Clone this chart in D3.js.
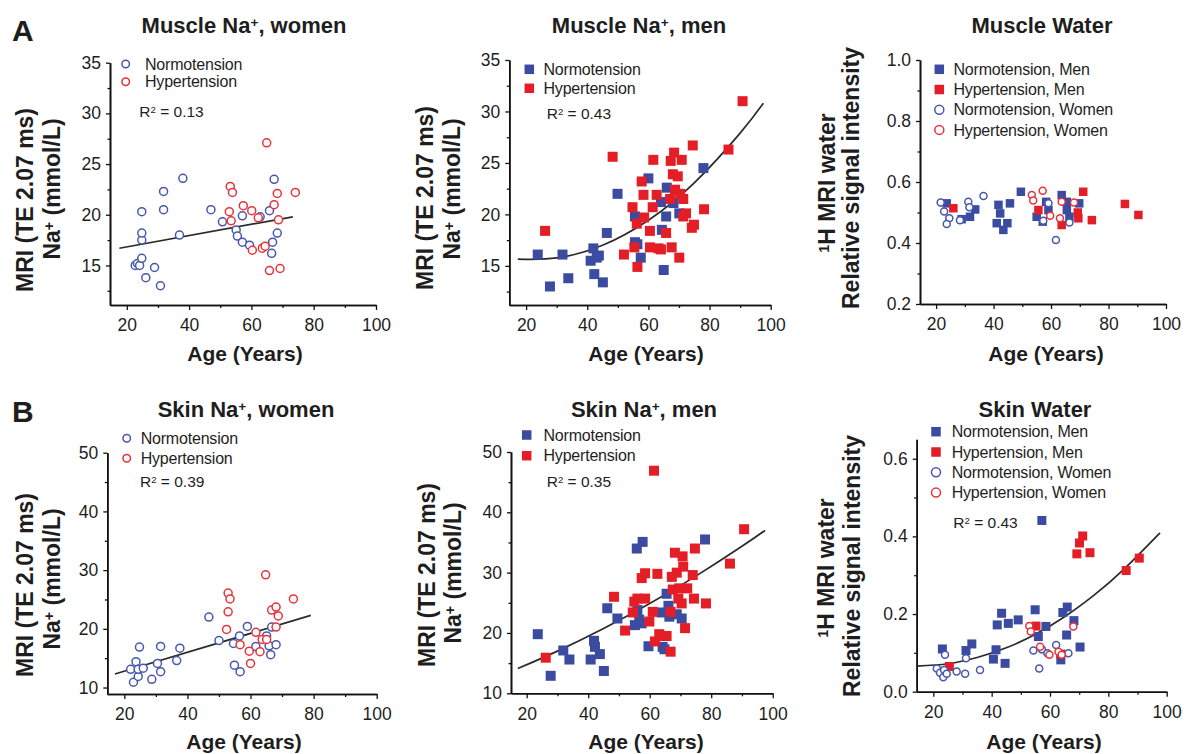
<!DOCTYPE html>
<html>
<head>
<meta charset="utf-8">
<script src="https://cdn.jsdelivr.net/npm/d3@7"></script>
<style>
  body { margin: 0; background: #fff; }
  text { font-family: "Liberation Sans", Arial, sans-serif; fill: #1e1e1e; }
</style>
</head>
<body>
<div id="chart"></div>
<script>
// ---- Data (age, value) ----
const ageTicks = [20, 40, 60, 80, 100];
const ageMinor = [30, 50, 70, 90];
const naMuscleTicks = [15, 20, 25, 30, 35];
const naMuscleMinor = [12.5, 17.5, 22.5, 27.5, 32.5];
const naSkinTicks = [10, 20, 30, 40, 50];
const naSkinMinor = [15, 25, 35, 45];
const waterMuscleTicks = [0.2, 0.4, 0.6, 0.8, 1.0];
const waterMuscleMinor = [0.3, 0.5, 0.7, 0.9];
const waterSkinTicks = [0.0, 0.2, 0.4, 0.6];
const waterSkinMinor = [0.1, 0.3, 0.5];

const muscleWomenNormo = [[22.7,15.0],[23.4,15.2],[24.1,15.0],[24.8,15.7],[24.8,17.5],[24.8,18.2],[24.8,20.3],[26.1,13.8],[28.9,14.8],[30.8,13.0],[31.8,22.3],[31.8,20.5],[36.9,18.0],[38.0,23.6],[47.0,20.5],[50.7,19.3],[55.1,18.5],[55.5,17.9],[57.1,19.9],[57.1,17.3],[59.4,17.0],[62.8,19.8],[65.8,20.4],[66.8,17.3],[66.5,16.2],[67.3,23.5],[68.3,18.2]];
const muscleWomenHyper = [[52.9,20.3],[53.2,22.8],[53.9,22.2],[53.5,19.4],[57.4,20.9],[60.1,20.4],[60.3,16.5],[62.2,19.7],[63.5,16.7],[64.4,16.9],[64.9,27.1],[65.8,14.5],[67.3,21.0],[68.3,22.1],[68.7,19.5],[69.2,14.7],[74.1,22.2]];
const muscleWomenFit = [[17.6,16.7],[73.3,19.8]];

const muscleMenNormo = [[23.8,16.1],[27.8,13.0],[31.9,16.1],[33.8,13.8],[41.1,15.5],[42.0,16.7],[42.3,14.2],[43.1,15.8],[43.8,16.0],[45.1,13.4],[46.4,18.2],[49.9,22.0],[55.6,19.8],[55.6,17.3],[56.4,17.1],[57.5,15.8],[60.0,23.5],[64.4,18.5],[65.0,14.6],[64.1,21.2],[65.8,19.8],[66.0,22.6],[68.2,21.1],[70.1,20.1],[78.0,24.5]];
const muscleMenHyper = [[26.2,18.4],[48.3,25.6],[52.0,16.1],[54.8,20.7],[55.4,16.8],[56.4,14.9],[56.2,19.1],[57.8,23.2],[58.4,21.9],[58.6,19.7],[60.5,18.4],[60.5,16.8],[61.6,25.3],[61.4,20.7],[62.7,21.9],[63.3,16.7],[64.1,16.6],[65.8,18.2],[67.1,21.5],[67.3,25.2],[67.6,16.8],[68.0,23.9],[68.4,26.0],[68.7,22.4],[69.6,23.7],[70.1,15.8],[70.4,22.0],[70.9,25.3],[71.4,21.5],[71.4,19.8],[72.3,20.1],[74.5,26.7],[74.2,18.7],[74.9,19.0],[78.2,20.5],[86.2,26.3],[90.8,31.0]];
const muscleMenFit = [[17.3,15.66],[30,15.77],[45,17.01],[60,19.44],[75,23.07],[90,27.9],[97.6,30.8]];

const waterMuscleMenNormo = [[23.7,0.530],[28.9,0.478],[31.8,0.486],[33.6,0.510],[41.7,0.525],[42.3,0.497],[41.1,0.465],[43.4,0.443],[44.8,0.465],[45.7,0.530],[49.5,0.568],[55.0,0.486],[57.1,0.470],[58.3,0.535],[59.1,0.508],[63.7,0.557],[65.5,0.508],[66.4,0.486],[69.8,0.530],[65.5,0.535]];
const waterMuscleMenHyper = [[26.0,0.514],[55.6,0.508],[63.7,0.459],[69.5,0.481],[69.3,0.500],[71.2,0.568],[74.2,0.475],[85.7,0.528],[90.4,0.492]];
const waterMuscleWomenNormo = [[21.6,0.533],[22.8,0.503],[24.6,0.481],[23.7,0.462],[28.3,0.475],[31.2,0.535],[31.6,0.517],[36.5,0.554],[59.1,0.530],[57.3,0.473],[66.4,0.467],[61.7,0.410]];
const waterMuscleWomenHyper = [[53.3,0.557],[53.8,0.539],[57.1,0.571],[59.7,0.489],[63.1,0.481],[63.7,0.535],[68.0,0.533]];

const skinWomenNormo = [[22.0,13.1],[22.9,10.9],[23.7,14.4],[24.4,11.9],[24.4,13.1],[24.8,16.9],[26.0,13.3],[28.7,11.4],[30.5,14.1],[31.5,12.7],[31.5,17.0],[36.6,14.6],[37.6,16.7],[46.8,22.0],[50.0,18.0],[54.6,17.5],[54.9,13.8],[56.7,12.7],[56.5,18.8],[59.0,20.4],[61.7,17.0],[65.1,18.8],[65.9,17.1],[66.4,15.6],[66.7,20.3],[68.1,17.3]];
const skinWomenHyper = [[52.4,19.9],[52.9,26.1],[53.5,25.1],[52.9,22.9],[56.7,17.3],[59.6,16.2],[60.0,14.1],[61.7,19.4],[63.0,16.1],[63.7,18.2],[64.8,29.2],[65.1,18.2],[66.7,23.2],[68.1,23.7],[68.8,22.2],[68.1,20.3],[73.6,25.1]];
const skinWomenFit = [[17.0,12.3],[79.1,22.3]];

const skinMenNormo = [[23.6,19.8],[27.8,12.9],[31.9,17.1],[33.9,15.6],[40.8,15.6],[41.9,18.7],[42.2,17.7],[43.8,16.5],[45.1,13.7],[46.2,24.1],[49.5,22.4],[55.2,21.3],[55.8,34.0],[56.6,22.2],[57.7,35.1],[56.0,23.8],[57.4,21.6],[59.6,17.8],[63.9,23.4],[64.2,17.7],[64.8,17.3],[65.5,26.5],[66.1,24.5],[66.4,22.7],[68.8,23.1],[70.4,22.4],[78.0,35.5]];
const skinMenHyper = [[26.2,15.9],[48.4,26.0],[52.0,20.4],[54.5,23.4],[55.0,25.2],[56.0,25.7],[57.4,29.1],[58.5,29.9],[58.5,25.7],[59.9,21.9],[61.0,23.5],[61.7,18.6],[61.4,46.9],[62.5,29.8],[63.1,19.8],[64.4,19.5],[65.5,19.5],[66.8,23.5],[66.8,16.9],[67.2,29.3],[67.5,27.2],[68.2,33.3],[68.8,30.0],[69.3,25.7],[69.6,27.4],[70.4,24.9],[70.7,32.7],[70.9,31.0],[71.5,20.8],[72.2,27.4],[74.0,29.6],[74.4,25.7],[74.7,34.0],[78.3,24.9],[86.1,31.5],[90.7,37.2]];
const skinMenFit = [[17.1,14.1],[30,16.99],[45,20.73],[60,24.87],[75,29.42],[90,34.37],[97.5,37.0]];

const waterSkinMenNormo = [[23.1,0.110],[31.2,0.106],[33.2,0.123],[40.6,0.084],[41.5,0.108],[41.9,0.172],[43.4,0.202],[44.6,0.073],[45.7,0.176],[49.1,0.185],[54.9,0.211],[56.0,0.142],[58.6,0.168],[57.2,0.441],[63.7,0.082],[64.4,0.204],[65.9,0.218],[65.7,0.146],[68.2,0.183],[70.3,0.115]];
const waterSkinMenHyper = [[25.5,0.065],[55.2,0.169],[63.7,0.097],[69.2,0.355],[70.1,0.383],[71.2,0.401],[73.7,0.358],[86.1,0.312],[90.6,0.344]];
const waterSkinWomenNormo = [[21.2,0.060],[22.3,0.049],[23.4,0.037],[24.0,0.095],[23.7,0.056],[24.6,0.046],[28.0,0.052],[30.9,0.046],[31.2,0.086],[36.0,0.056],[54.3,0.106],[56.3,0.060],[57.2,0.109],[59.1,0.099],[62.1,0.120],[66.3,0.099]];
const waterSkinWomenHyper = [[52.9,0.169],[53.4,0.155],[56.6,0.116],[59.8,0.095],[62.9,0.103],[64.0,0.095],[68.0,0.168]];
const waterSkinFit = [[14.3,0.066],[25,0.072],[35,0.088],[45,0.113],[55,0.148],[65,0.193],[75,0.248],[85,0.313],[97.7,0.409]];

// ---- Styles ----
const blue = '#3b4ca0';
const red = '#e41e27';
const blueLine = '#4757ad';
const redLine = '#e8323b';

const svg = d3.select('#chart')
  .append('svg')
  .attr('width', 1189)
  .attr('height', 754)
  .style('background', '#fff')

// text with superscript parts: [['Muscle Na'], ['+', true], [', women']]
function rich(sel, parts) {
  parts.forEach(p => {
    const t = sel.append('tspan').text(p[0])
    if (p[1]) t.attr('font-size', '62%').attr('baseline-shift', '45%')
  })
  return sel
}

function marker(g, shape, color, size) {
  if (shape === 'square') {
    return g.append('rect')
      .attr('x', -size / 2).attr('y', -size / 2)
      .attr('width', size).attr('height', size)
      .attr('fill', color)
  }
  return g.append('circle')
    .attr('r', size / 2)
    .attr('fill', '#fff')
    .attr('stroke', color)
    .attr('stroke-width', 1.5)
}

const panels = [
  {
    title: [['Muscle Na'], ['+', true], [', women']], tx: 244, ty: 33,
    xr: [110, 376], yr: [305, 62.7], xd: [14.6, 100], yd: [11.1, 35],
    yTicks: naMuscleTicks, yMinor: naMuscleMinor, fmt: d3.format('d'),
    yTitle: [[['MRI (TE 2.07 ms)']], [['Na'], ['+', true], [' (mmol/L)']]],
    yTitlePos: [[33, 200], [60, 189]], xTitleX: 245, xTitleY: 361,
    series: [
      { data: muscleWomenNormo, shape: 'circle', color: blueLine, size: 8 },
      { data: muscleWomenHyper, shape: 'circle', color: redLine, size: 8 }
    ],
    fit: muscleWomenFit,
    legend: { x: 125.7, y: 64, dy: 17.7, tx: 145, size: 8,
      items: [['circle', blueLine, 'Normotension'], ['circle', redLine, 'Hypertension']] },
    r2: { x: 139.3, y: 117, v: '0.13' }
  },
  {
    title: [['Muscle Na'], ['+', true], [', men']], tx: 639, ty: 33,
    xr: [509.3, 770.7], yr: [305, 60], xd: [14.5, 100], yd: [11.2, 35],
    yTicks: naMuscleTicks, yMinor: naMuscleMinor, fmt: d3.format('d'),
    yTitle: [[['MRI (TE 2.07 ms)']], [['Na'], ['+', true], [' (mmol/L)']]],
    yTitlePos: [[433, 198], [460, 189]], xTitleX: 646, xTitleY: 361,
    series: [
      { data: muscleMenNormo, shape: 'square', color: blue, size: 10 },
      { data: muscleMenHyper, shape: 'square', color: red, size: 10 }
    ],
    fit: muscleMenFit,
    legend: { x: 529.3, y: 69.3, dy: 19, tx: 543.5, size: 9.5,
      items: [['square', blue, 'Normotension'], ['square', red, 'Hypertension']] },
    r2: { x: 546.7, y: 119, v: '0.43' }
  },
  {
    title: [['Muscle Water']], tx: 1042, ty: 33,
    xr: [920, 1166], yr: [304, 60], xd: [14.4, 100], yd: [0.2, 1.0],
    yTicks: waterMuscleTicks, yMinor: waterMuscleMinor, fmt: d3.format('.1f'),
    yTitle: [[['1', true], ['H MRI  water']], [['Relative signal intensity']]],
    yTitlePos: [[835, 183], [859, 178]], xTitleX: 1046, xTitleY: 361,
    series: [
      { data: waterMuscleMenNormo, shape: 'square', color: blue, size: 8.5 },
      { data: waterMuscleMenHyper, shape: 'square', color: red, size: 8.5 },
      { data: waterMuscleWomenNormo, shape: 'circle', color: blueLine, size: 7 },
      { data: waterMuscleWomenHyper, shape: 'circle', color: redLine, size: 7 }
    ],
    legend: { x: 939.3, y: 69.3, dy: 20.2, tx: 953.5, size: 9.5,
      items: [['square', blue, 'Normotension, Men'], ['square', red, 'Hypertension, Men'],
              ['circle', blueLine, 'Normotension, Women'], ['circle', redLine, 'Hypertension, Women']] }
  },
  {
    title: [['Skin Na'], ['+', true], [', women']], tx: 246, ty: 417,
    xr: [107.3, 376.7], yr: [694, 452.7], xd: [14.6, 100], yd: [8.9, 50],
    yTicks: naSkinTicks, yMinor: naSkinMinor, fmt: d3.format('d'),
    yTitle: [[['MRI (TE 2.07 ms)']], [['Na'], ['+', true], [' (mmol/L)']]],
    yTitlePos: [[33, 585], [60, 579]], xTitleX: 244, xTitleY: 749,
    series: [
      { data: skinWomenNormo, shape: 'circle', color: blueLine, size: 8 },
      { data: skinWomenHyper, shape: 'circle', color: redLine, size: 8 }
    ],
    fit: skinWomenFit,
    legend: { x: 126.7, y: 438.3, dy: 20, tx: 140.7, size: 8,
      items: [['circle', blueLine, 'Normotension'], ['circle', redLine, 'Hypertension']] },
    r2: { x: 140, y: 486.7, v: '0.39' }
  },
  {
    title: [['Skin Na'], ['+', true], [', men']], tx: 644, ty: 417,
    xr: [511, 772.7], yr: [693.3, 452], xd: [14.9, 100], yd: [10, 50],
    yTicks: naSkinTicks, yMinor: naSkinMinor, fmt: d3.format('d'),
    yTitle: [[['MRI (TE 2.07 ms)']], [['Na'], ['+', true], [' (mmol/L)']]],
    yTitlePos: [[435, 575], [461, 573]], xTitleX: 646, xTitleY: 749,
    series: [
      { data: skinMenNormo, shape: 'square', color: blue, size: 10 },
      { data: skinMenHyper, shape: 'square', color: red, size: 10 }
    ],
    fit: skinMenFit,
    legend: { x: 526.7, y: 435, dy: 20.7, tx: 543.5, size: 9.5,
      items: [['square', blue, 'Normotension'], ['square', red, 'Hypertension']] },
    r2: { x: 546.7, y: 486.7, v: '0.35' }
  },
  {
    title: [['Skin Water']], tx: 1035, ty: 417,
    xr: [916.7, 1166.7], yr: [691.7, 439.3], xd: [14.3, 100], yd: [0, 0.65],
    yTicks: waterSkinTicks, yMinor: waterSkinMinor, fmt: d3.format('.1f'),
    yTitle: [[['1', true], ['H MRI  water']], [['Relative signal intensity']]],
    yTitlePos: [[834, 568], [860, 566]], xTitleX: 1044, xTitleY: 749,
    series: [
      { data: waterSkinMenNormo, shape: 'square', color: blue, size: 9 },
      { data: waterSkinMenHyper, shape: 'square', color: red, size: 9 },
      { data: waterSkinWomenNormo, shape: 'circle', color: blueLine, size: 7 },
      { data: waterSkinWomenHyper, shape: 'circle', color: redLine, size: 7 }
    ],
    fit: waterSkinFit,
    legend: { x: 936, y: 431.7, dy: 20.3, tx: 951.7, size: 9.5,
      items: [['square', blue, 'Normotension, Men'], ['square', red, 'Hypertension, Men'],
              ['circle', blueLine, 'Normotension, Women'], ['circle', redLine, 'Hypertension, Women']] },
    r2: { x: 953.3, y: 528.3, v: '0.43' }
  }
]

// Panel letters
svg.append('text').attr('x', 12).attr('y', 41).attr('font-size', '30px').attr('font-weight', 'bold').text('A')
svg.append('text').attr('x', 12).attr('y', 422).attr('font-size', '30px').attr('font-weight', 'bold').text('B')

panels.forEach(p => {
  const xScale = d3.scaleLinear().domain(p.xd).range(p.xr)
  const yScale = d3.scaleLinear().domain(p.yd).range(p.yr)
  const g = svg.append('g')

  // Title
  rich(g.append('text')
    .attr('x', p.tx).attr('y', p.ty)
    .attr('text-anchor', 'middle')
    .attr('font-size', '22px')
    .attr('font-weight', 'bold'), p.title)

  // Axes
  const xAxis = d3.axisBottom(xScale).tickValues(ageTicks).tickSize(5).tickSizeOuter(0).tickPadding(9)
  const xMinor = d3.axisBottom(xScale).tickValues(ageMinor).tickSize(3).tickSizeOuter(0).tickFormat('')
  const yAxis = d3.axisLeft(yScale).tickValues(p.yTicks).tickSize(4).tickSizeOuter(0).tickPadding(5).tickFormat(p.fmt)
  const yMinor = d3.axisLeft(yScale).tickValues(p.yMinor).tickSize(2.5).tickSizeOuter(0).tickFormat('')

  ;[[xAxis, 'x'], [xMinor, 'x'], [yAxis, 'y'], [yMinor, 'y']].forEach(([ax, k]) => {
    const a = g.append('g')
      .attr('transform', k === 'x' ? `translate(0,${p.yr[0]})` : `translate(${p.xr[0]},0)`)
      .call(ax)
    a.select('.domain').attr('stroke', '#111').attr('stroke-width', 1.6)
    a.selectAll('.tick line').attr('stroke', '#111').attr('stroke-width', 1.3)
    a.selectAll('text')
      .attr('font-size', '17.5px')
      .attr('font-family', '"Liberation Sans", Arial, sans-serif')
      .attr('fill', '#1e1e1e')
  })

  // Axis titles
  g.append('text')
    .attr('x', p.xTitleX).attr('y', p.xTitleY)
    .attr('text-anchor', 'middle')
    .attr('font-size', '21px').attr('font-weight', 'bold')
    .text('Age (Years)')

  p.yTitle.forEach((parts, i) => {
    rich(g.append('text')
      .attr('transform', `translate(${p.yTitlePos[i][0]},${p.yTitlePos[i][1]}) rotate(-90)`)
      .attr('text-anchor', 'middle')
      .attr('font-size', '23px').attr('font-weight', 'bold'), parts)
  })

  // Fit curve
  if (p.fit) {
    const line = d3.line()
      .x(d => xScale(d[0]))
      .y(d => yScale(d[1]))
      .curve(d3.curveNatural)
    g.append('path')
      .datum(p.fit)
      .attr('d', line)
      .attr('fill', 'none')
      .attr('stroke', '#2a2a2a')
      .attr('stroke-width', 1.7)
  }

  // Points
  p.series.forEach(s => {
    s.data.forEach(d => {
      const m = g.append('g').attr('transform', `translate(${xScale(d[0])},${yScale(d[1])})`)
      marker(m, s.shape, s.color, s.size)
    })
  })

  // Legend
  const L = p.legend
  L.items.forEach((it, i) => {
    const cy = L.y + i * L.dy
    const m = g.append('g').attr('transform', `translate(${L.x},${cy})`)
    marker(m, it[0], it[1], it[0] === 'square' ? L.size : L.size - 0.5)
    g.append('text')
      .attr('x', L.tx).attr('y', cy + 5.7)
      .attr('font-size', '16px')
      .attr('letter-spacing', '-0.2px')
      .text(it[2])
  })

  // R squared
  if (p.r2) {
    rich(g.append('text')
      .attr('x', p.r2.x).attr('y', p.r2.y)
      .attr('font-size', '15.5px'), [['R'], ['2', true], [' = ' + p.r2.v]])
  }
})
</script>
</body>
</html>
